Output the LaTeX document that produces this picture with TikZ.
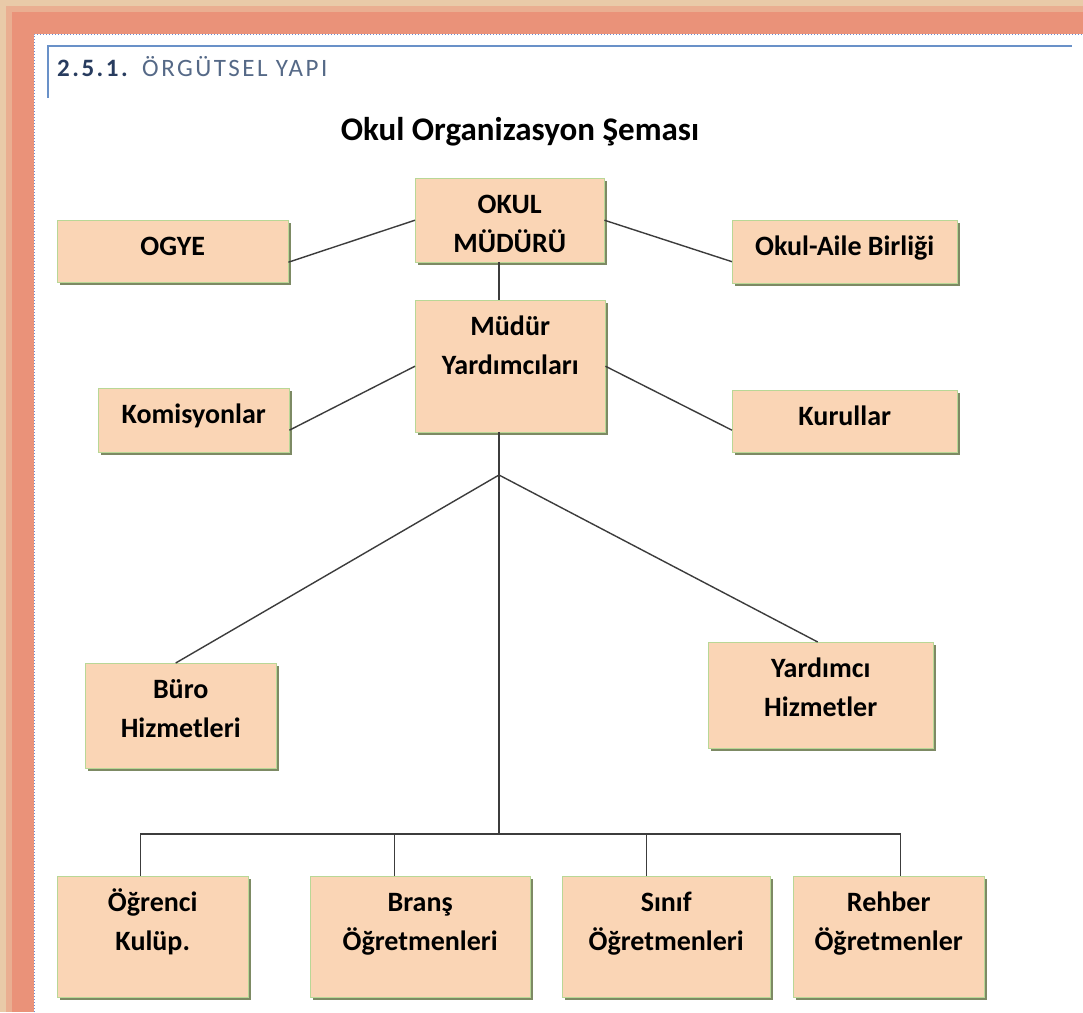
\documentclass[tikz,border=0pt]{standalone}
\usepackage{fontspec}
\setmainfont{Carlito}
\newfontfamily\headfont[LetterSpace=10]{Carlito}
\usetikzlibrary{shadows}
\definecolor{boxfill}{RGB}{250,213,181}
\definecolor{boxline}{RGB}{185,215,150}
\definecolor{shade}{RGB}{125,138,100}
\definecolor{linkc}{RGB}{60,60,60}
\definecolor{rim}{RGB}{233,202,168}
\definecolor{salmon}{RGB}{234,146,121}
\definecolor{dotblue}{RGB}{110,140,210}
\definecolor{headline}{RGB}{105,145,200}
\definecolor{headdark}{RGB}{40,60,95}
\definecolor{headlight}{RGB}{85,105,135}
\newcommand{\cell}[3]{\parbox[c][#2][t]{#1}{\centering\rule{0pt}{35pt}#3}}

\begin{document}
\begin{tikzpicture}[x=1pt, y=-1pt,
    unit/.style = {draw=boxline, fill=boxfill, inner sep=0pt, anchor=north west,
      font=\fontsize{28}{39}\selectfont\bfseries,
      drop shadow={shadow xshift=3pt, shadow yshift=-3pt, opacity=1, fill=shade}},
    link/.style = {draw=linkc, line width=1.4pt}]
    \useasboundingbox (0,0) rectangle (1083,1012);
    \fill[rim] (0,0) rectangle (1083,1012);
    \fill[salmon!50!rim] (6,6) rectangle (1083,1012);
    \fill[salmon] (12,12) rectangle (1083,1012);
    \fill[white] (34,34) rectangle (1083,1012);
    \draw[dotblue, dotted, line width=1pt] (34,1012) -- (34,34) -- (1083,34);
    \draw[headline, line width=2pt] (47,46) -- (1072,46);
    \draw[headline, line width=1.5pt] (48,46) -- (48,98);

    \node[anchor=base west, inner sep=0, text=headdark, font=\headfont\fontsize{25}{30}\selectfont\bfseries] (secno) at (57,76) {2.5.1.};
    \node[anchor=base west, inner sep=0, text=headlight, font=\headfont\fontsize{25}{30}\selectfont] (sectitle) at (142,76) {ÖRGÜTSEL YAPI};
    \node[anchor=base, font=\fontsize{33}{40}\selectfont\bfseries] (title) at (520,140) {Okul Organizasyon Şeması};

    \node[unit] (okul) at (415,178) {\cell{189pt}{84pt}{OKUL\\MÜDÜRÜ}};
    \node[unit] (ogye) at (57,220) {\cell{231pt}{62pt}{OGYE}};
    \node[unit] (oab) at (732,220) {\cell{225pt}{63pt}{Okul-Aile Birliği}};
    \node[unit] (myard) at (415,300) {\cell{190pt}{132pt}{Müdür\\Yardımcıları}};
    \node[unit] (komis) at (98,388) {\cell{191pt}{64pt}{Komisyonlar}};
    \node[unit] (kurul) at (732,390) {\cell{225pt}{62pt}{Kurullar}};
    \node[unit] (buro) at (85,663) {\cell{191pt}{105pt}{Büro\\Hizmetleri}};
    \node[unit] (yhiz) at (708,642) {\cell{225pt}{106pt}{Yardımcı\\Hizmetler}};
    \node[unit] (ogr) at (57,876) {\cell{191pt}{121pt}{Öğrenci\\Kulüp.}};
    \node[unit] (brans) at (310,876) {\cell{220pt}{121pt}{Branş\\Öğretmenleri}};
    \node[unit] (sinif) at (562,876) {\cell{208pt}{121pt}{Sınıf\\Öğretmenleri}};
    \node[unit] (rehber) at (793,876) {\cell{191pt}{121pt}{Rehber\\Öğretmenler}};

    \coordinate (hub) at (499,475);
    \coordinate (bus) at (499,834);
    \draw[link] (okul.west) -- ([yshift=-11pt]ogye.east);
    \draw[link] (okul.east) -- ([yshift=-10pt]oab.west);
    \draw[link] (okul.south -| hub) -- (myard.north -| hub);
    \draw[link] (myard.west) -- ([yshift=-10pt]komis.east);
    \draw[link] (myard.east) -- ([yshift=-9pt]kurul.west);
    \draw[link] (myard.south -| hub) -- (hub) -- (bus);
    \draw[link] (hub) -- ([xshift=-5pt]buro.north);
    \draw[link] (hub) -- ([xshift=-3pt]yhiz.north);
    \draw[link] ([xshift=-12pt]ogr.north) |- (bus);
    \draw[link] ([xshift=-26pt]brans.north) |- (bus);
    \draw[link] ([xshift=-20pt]sinif.north) |- (bus);
    \draw[link] ([xshift=11.5pt]rehber.north) |- (bus);
\end{tikzpicture}
\end{document}
